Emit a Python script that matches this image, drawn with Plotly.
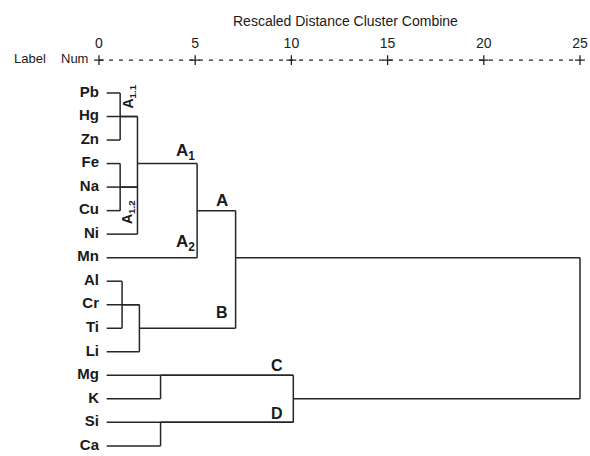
import plotly.graph_objects as go

# ---------------- data ----------------
labels = ["Pb", "Hg", "Zn", "Fe", "Na", "Cu", "Ni", "Mn",
          "Al", "Cr", "Ti", "Li", "Mg", "K", "Si", "Ca"]
# rescaled distance at which each leaf's horizontal line ends
leaf_end = [1.1, 2.0, 1.1, 1.1, 2.0, 1.1, 2.0, 5.1,
            1.2, 2.1, 1.2, 2.1, 10.1, 3.2, 10.1, 3.2]
# cluster nodes: merge distance, vertical span (rows), outgoing row, parent node
node_dist = [1.1, 1.1, 1.2, 2.0, 2.1, 3.2, 3.2, 5.1, 7.1, 10.1, 25.0]
node_top = [0, 3, 8, 1, 9, 12, 14, 3, 5, 12, 7]
node_bottom = [2, 5, 10, 6, 11, 13, 15, 7, 10, 14, 13]
node_out_row = [1, 4, 9, 3, 10, 12, 14, 5, 7, 13, None]
node_parent = [3, 3, 4, 7, 8, 9, 9, 8, 10, 10, None]
tick_values = [0, 5, 10, 15, 20, 25]

LEAF_START = 0.4
LINE_COLOR = "#262626"
FONT = "Liberation Sans, Arial, sans-serif"

xs, ys = [], []
# leaf lines
for r, end in enumerate(leaf_end):
    xs += [LEAF_START, end, None]
    ys += [r, r, None]
# vertical node lines and outgoing horizontals
for i, d in enumerate(node_dist):
    xs += [d, d, None]
    ys += [node_top[i], node_bottom[i], None]
    if node_parent[i] is not None:
        pd = node_dist[node_parent[i]]
        xs += [d, pd, None]
        ys += [node_out_row[i], node_out_row[i], None]

fig = go.Figure()
fig.add_trace(go.Scatter(x=xs, y=ys, mode="lines",
                         line=dict(color=LINE_COLOR, width=1.5),
                         hoverinfo="skip", showlegend=False))

# leaf labels
fig.add_trace(go.Scatter(x=[0.0] * len(labels), y=list(range(len(labels))),
                         mode="text", text=labels, textposition="middle left",
                         textfont=dict(family=FONT, size=15, color="#1a1a1a", weight="bold"),
                         hoverinfo="skip", showlegend=False))

# header axis: dashed line with + marks
AX_ROW = -1.40
fig.add_trace(go.Scatter(x=[tick_values[0], tick_values[-1]], y=[AX_ROW, AX_ROW],
                         mode="lines", line=dict(color="#222", width=1.2, dash="4px,6px"),
                         hoverinfo="skip", showlegend=False))
fig.add_trace(go.Scatter(x=tick_values, y=[AX_ROW] * len(tick_values),
                         mode="markers",
                         marker=dict(symbol="cross-thin", size=7,
                                     line=dict(color="#222", width=1.3)),
                         hoverinfo="skip", showlegend=False))
fig.add_trace(go.Scatter(x=tick_values, y=[-2.08] * len(tick_values),
                         mode="text", text=[str(t) for t in tick_values],
                         textfont=dict(family=FONT, size=14, color="#222"),
                         hoverinfo="skip", showlegend=False))

annos = [
    dict(x=12.8, y=-3.08, text="Rescaled Distance Cluster Combine", size=14, bold=False),
    dict(x=-3.6, y=AX_ROW - 0.05, text="Label", size=13, bold=False),
    dict(x=-1.25, y=AX_ROW - 0.05, text="Num", size=13, bold=False),
    dict(x=4.52, y=2.5, text="A<sub>1</sub>", size=17, bold=True),
    dict(x=4.52, y=6.37, text="A<sub>2</sub>", size=17, bold=True),
    dict(x=6.39, y=4.55, text="A", size=17, bold=True),
    dict(x=6.39, y=9.31, text="B", size=16, bold=True),
    dict(x=9.25, y=11.6, text="C", size=16, bold=True),
    dict(x=9.25, y=13.64, text="D", size=16, bold=True),
    dict(x=1.56, y=0.15, text="A<sub>1.1</sub>", size=14, bold=True, angle=-90),
    dict(x=1.51, y=5.06, text="A<sub>1.2</sub>", size=14, bold=True, angle=-90),
]
for a in annos:
    fig.add_annotation(x=a["x"], y=a["y"], text=a["text"], showarrow=False,
                       xanchor="center", yanchor="middle",
                       textangle=a.get("angle", 0),
                       font=dict(family=FONT, size=a["size"], color="#1a1a1a",
                                 weight="bold" if a["bold"] else "normal"))

fig.update_layout(
    width=590, height=456,
    margin=dict(l=0, r=0, t=0, b=0),
    paper_bgcolor="white", plot_bgcolor="white",
    xaxis=dict(range=[-5.145, 25.52], visible=False, fixedrange=True),
    yaxis=dict(range=[15.43, -3.953], visible=False, fixedrange=True),
    showlegend=False,
)
fig.write_html("out.html")
